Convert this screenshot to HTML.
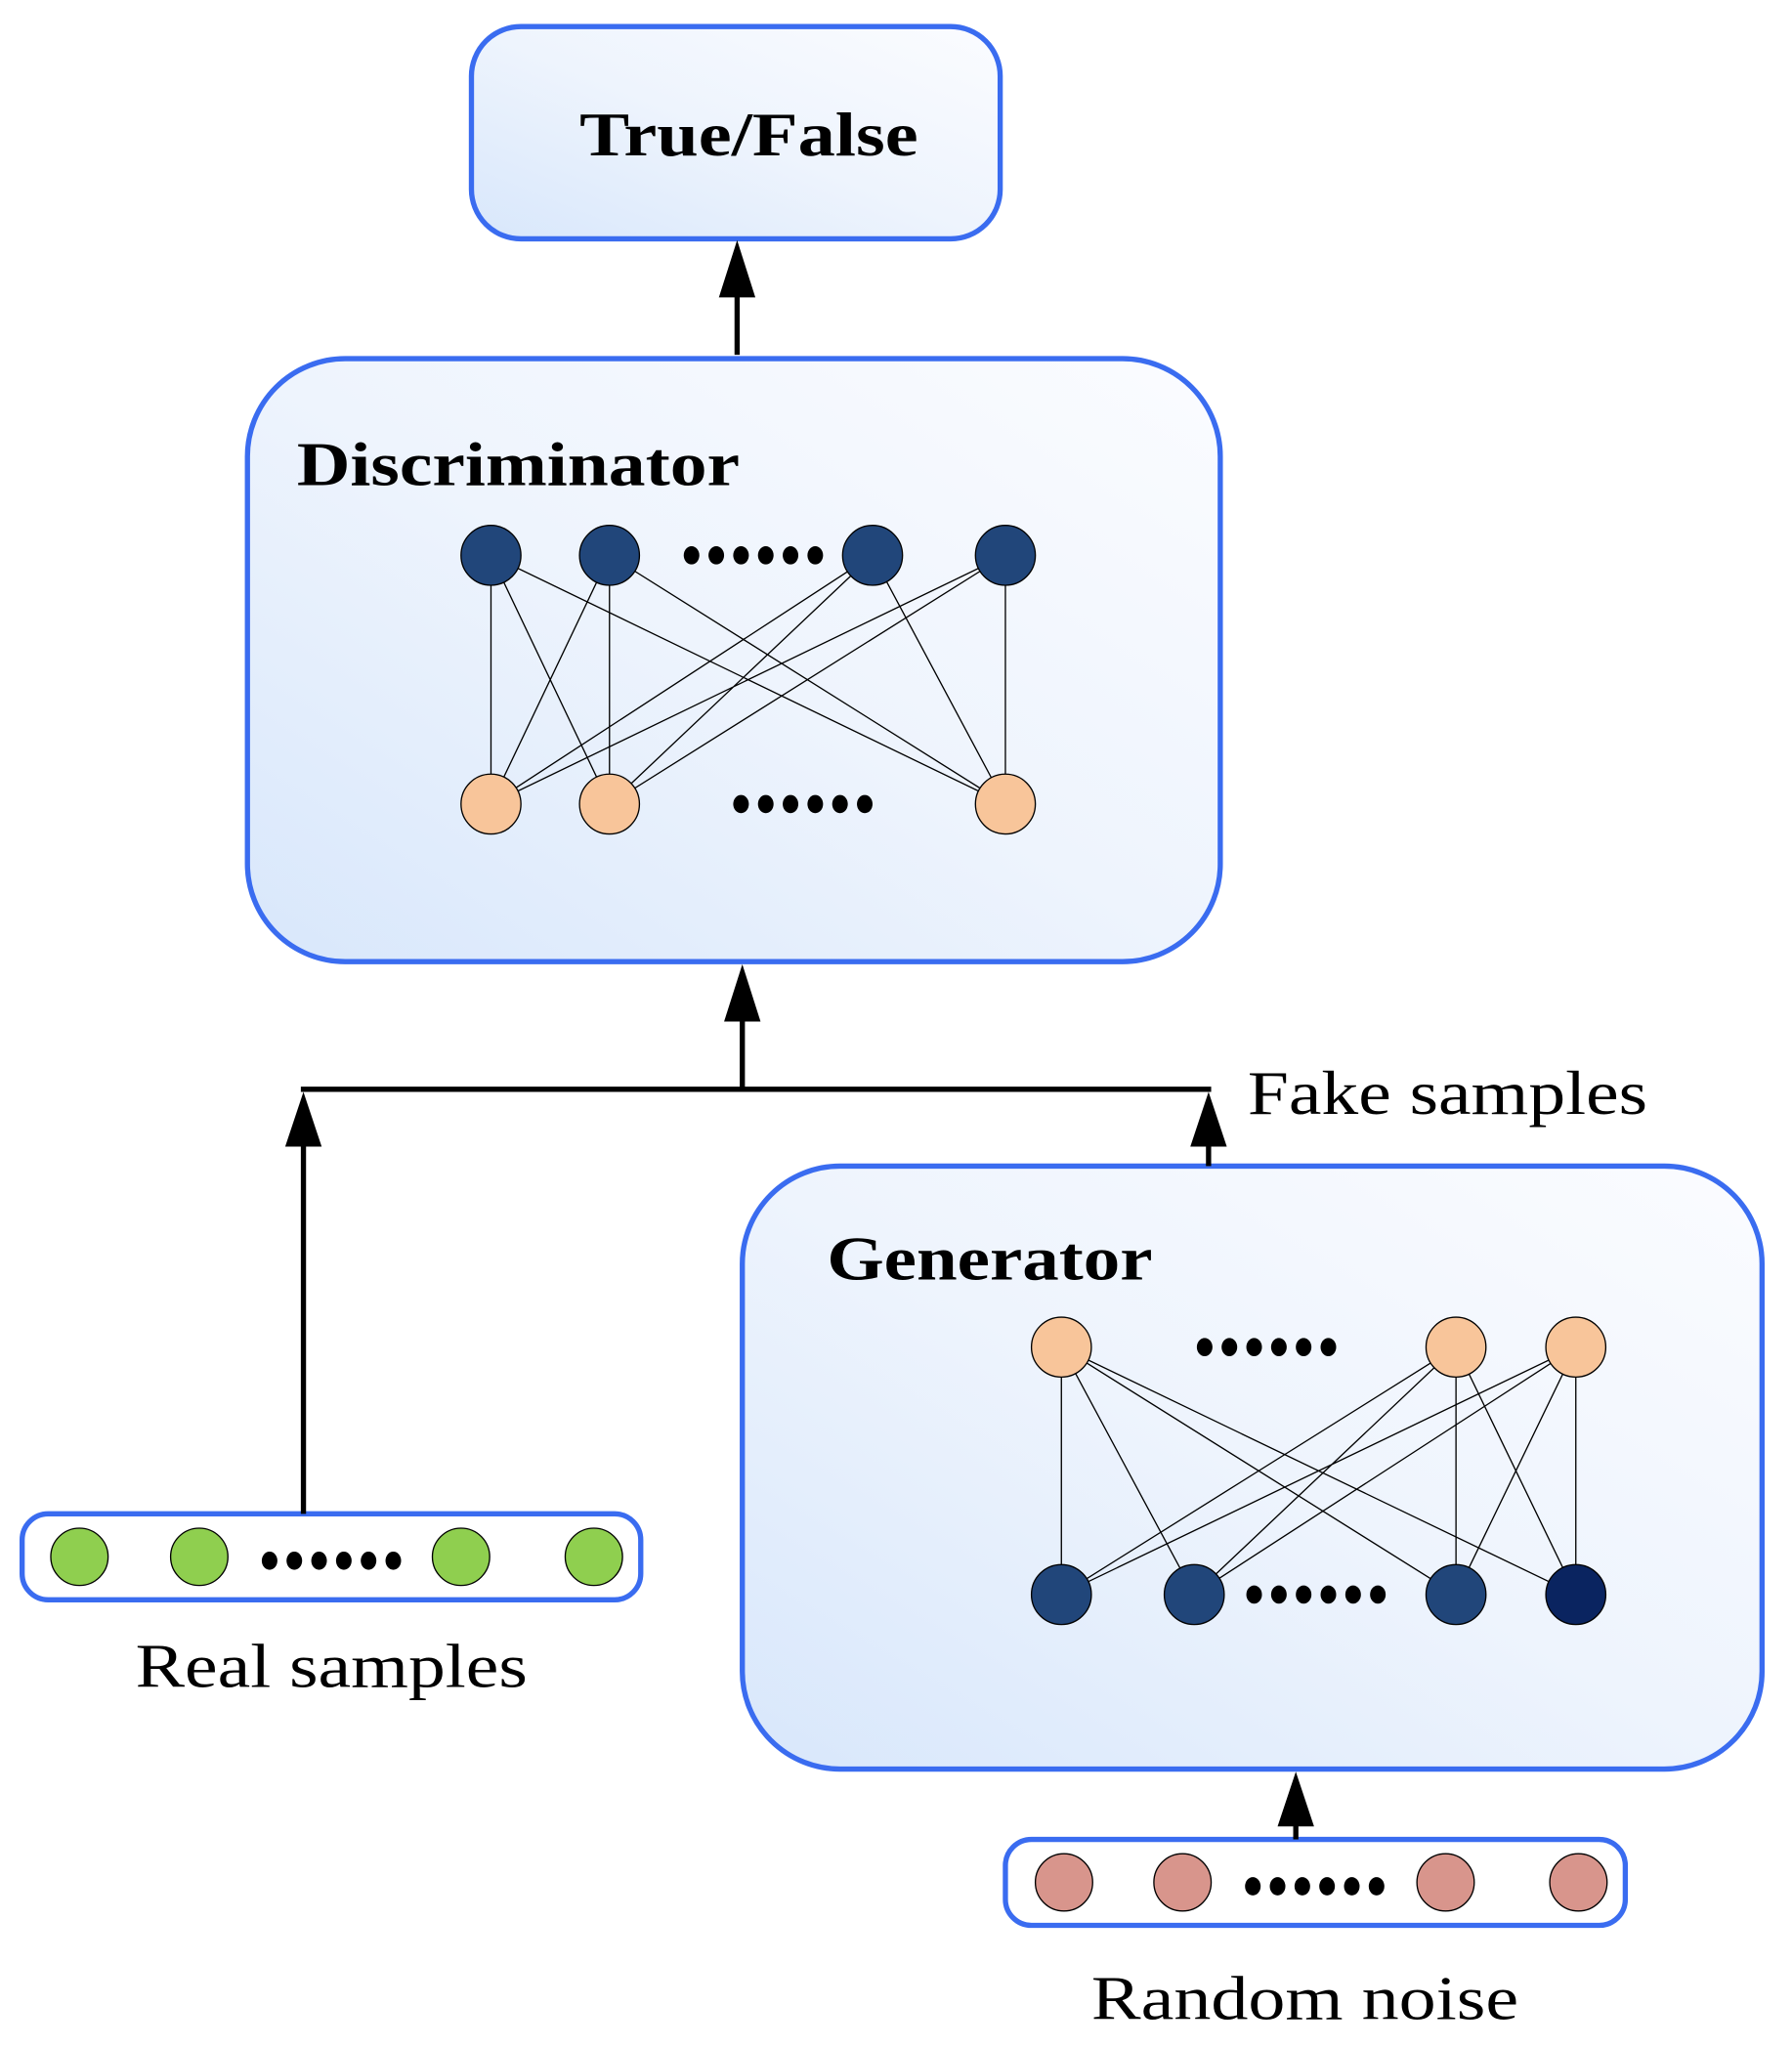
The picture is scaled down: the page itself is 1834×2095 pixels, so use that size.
<!DOCTYPE html>
<html><head><meta charset="utf-8"><style>html,body{margin:0;padding:0;background:#fff}svg{display:block}</style></head>
<body>
<svg width="1834" height="2095" viewBox="0 0 1376 1571" xmlns="http://www.w3.org/2000/svg" font-family="Liberation Serif, serif">
<defs>
<linearGradient id="g" x1="0" y1="1" x2="1" y2="0">
<stop offset="0" stop-color="#d8e7fb"/><stop offset="0.5" stop-color="#eef4fd"/><stop offset="1" stop-color="#fbfcff"/>
</linearGradient>
<g id="d"><ellipse cx="0" cy="0" rx="6" ry="7"/><ellipse cx="19" cy="0" rx="6" ry="7"/><ellipse cx="38" cy="0" rx="6" ry="7"/><ellipse cx="57" cy="0" rx="6" ry="7"/><ellipse cx="76" cy="0" rx="6" ry="7"/><ellipse cx="95" cy="0" rx="6" ry="7"/></g>
</defs>
<g stroke="#3a6cf0" stroke-width="4" fill="url(#g)">
<rect x="362" y="20" width="406" height="163" rx="38"/>
<rect x="190" y="275" width="747" height="463" rx="75"/>
<rect x="570" y="895" width="783" height="463" rx="75"/>
<rect x="17" y="1162" width="475" height="66" rx="20" fill="#fff"/>
<rect x="772" y="1412" width="476" height="66" rx="20" fill="#fff"/>
</g>
<g font-weight="bold" font-size="48" fill="#000">
<text x="445" y="119" textLength="260" lengthAdjust="spacingAndGlyphs">True/False</text>
<text x="228" y="372" textLength="340" lengthAdjust="spacingAndGlyphs">Discriminator</text>
<text x="635" y="982" textLength="250" lengthAdjust="spacingAndGlyphs">Generator</text>
</g>
<g font-size="48" fill="#000">
<text x="958" y="855" textLength="307" lengthAdjust="spacingAndGlyphs">Fake samples</text>
<text x="104" y="1295" textLength="301" lengthAdjust="spacingAndGlyphs">Real samples</text>
<text x="838" y="1550" textLength="328" lengthAdjust="spacingAndGlyphs">Random noise</text>
</g>
<g stroke="#000" stroke-width="4" fill="none">
<line x1="566" y1="272" x2="566" y2="220"/>
<line x1="570" y1="836" x2="570" y2="775"/>
<line x1="231" y1="836" x2="930" y2="836"/>
<line x1="233" y1="1162" x2="233" y2="870"/>
<line x1="928" y1="895" x2="928" y2="870"/>
<line x1="995" y1="1412" x2="995" y2="1395"/>
</g>
<g fill="#000">
<path d="M566,184 L552,228 L580,228 z"/>
<path d="M570,740 L556,784 L584,784 z"/>
<path d="M233,838 L219,880 L247,880 z"/>
<path d="M928,838 L914,880 L942,880 z"/>
<path d="M995,1360 L981,1402 L1009,1402 z"/>
</g>
<g stroke="#000" stroke-width="1">
<path d="M377,426L377,617M377,426L468,617M377,426L772,617M468,426L377,617M468,426L468,617M468,426L772,617M670,426L377,617M670,426L468,617M670,426L772,617M772,426L377,617M772,426L468,617M772,426L772,617"/>
<path d="M815,1034L815,1224M815,1034L917,1224M815,1034L1118,1224M815,1034L1210,1224M1118,1034L815,1224M1118,1034L917,1224M1118,1034L1118,1224M1118,1034L1210,1224M1210,1034L815,1224M1210,1034L917,1224M1210,1034L1118,1224M1210,1034L1210,1224"/>
</g>
<g stroke="#000" stroke-width="1">
<g fill="#21467a"><circle cx="377" cy="426" r="23"/><circle cx="468" cy="426" r="23"/><circle cx="670" cy="426" r="23"/><circle cx="772" cy="426" r="23"/>
<circle cx="815" cy="1224" r="23"/><circle cx="917" cy="1224" r="23"/><circle cx="1118" cy="1224" r="23"/></g>
<circle cx="1210" cy="1224" r="23" fill="#0a2460"/>
<g fill="#f8c59a"><circle cx="377" cy="617" r="23"/><circle cx="468" cy="617" r="23"/><circle cx="772" cy="617" r="23"/>
<circle cx="815" cy="1034" r="23"/><circle cx="1118" cy="1034" r="23"/><circle cx="1210" cy="1034" r="23"/></g>
<g fill="#8fcf4f"><circle cx="61" cy="1195" r="22"/><circle cx="153" cy="1195" r="22"/><circle cx="354" cy="1195" r="22"/><circle cx="456" cy="1195" r="22"/></g>
<g fill="#d8958c"><circle cx="817" cy="1445" r="22"/><circle cx="908" cy="1445" r="22"/><circle cx="1110" cy="1445" r="22"/><circle cx="1212" cy="1445" r="22"/></g>
</g>
<g fill="#000">
<use href="#d" x="531" y="426"/>
<use href="#d" x="569" y="617"/>
<use href="#d" x="925" y="1034"/>
<use href="#d" x="963" y="1224"/>
<use href="#d" x="207" y="1198"/>
<use href="#d" x="962" y="1448"/>
</g>
</svg>
</body></html>
